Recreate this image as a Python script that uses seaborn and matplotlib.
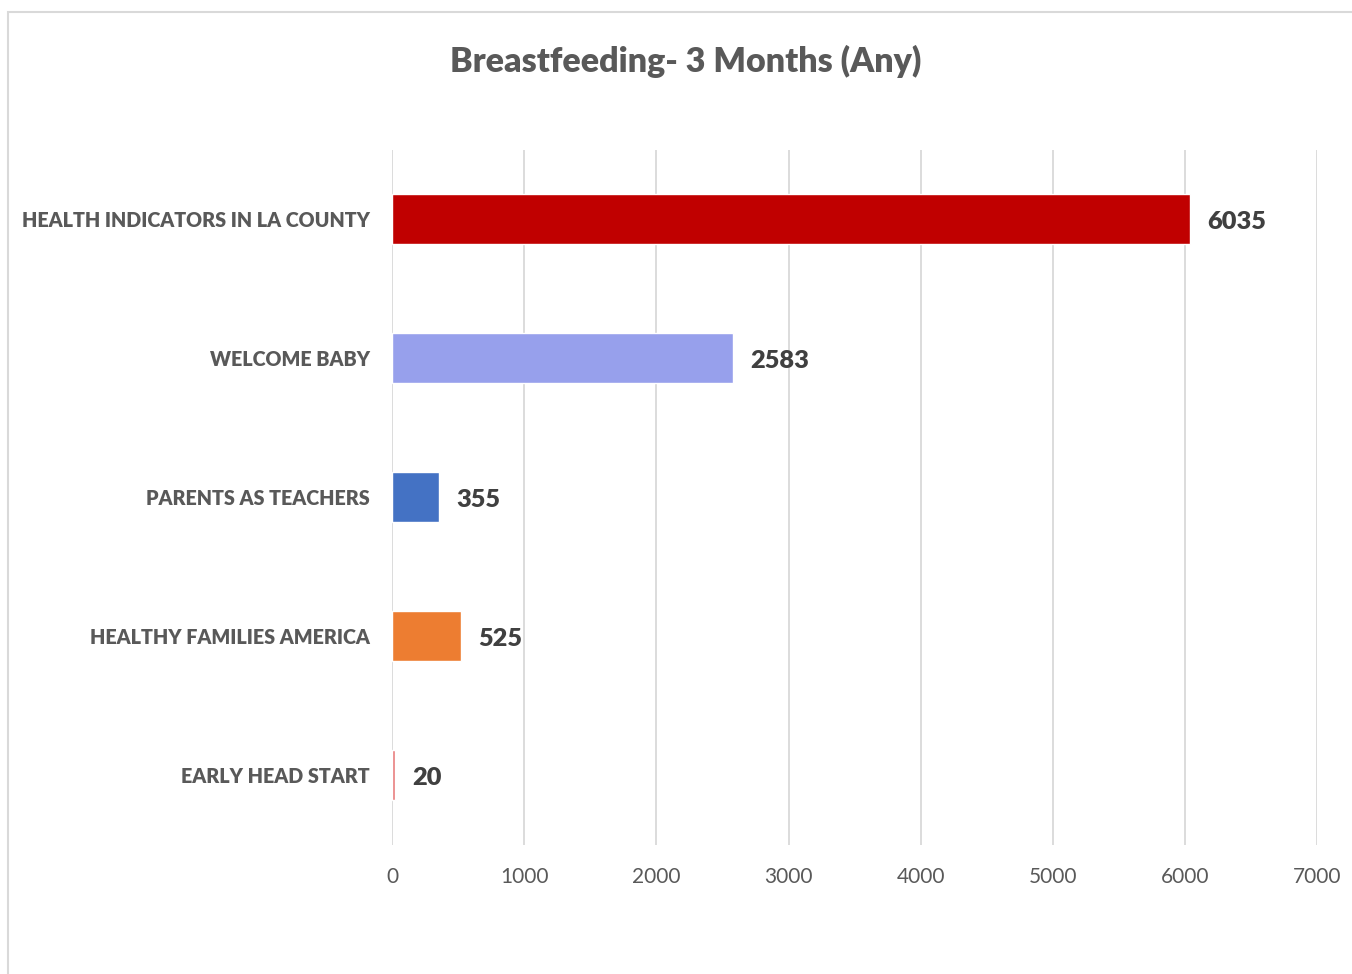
import numpy as np
import pandas as pd
import seaborn as sns
from matplotlib import pyplot as plt
from matplotlib.patches import Rectangle

programs = ['HEALTH INDICATORS IN LA COUNTY', 'WELCOME BABY', 'PARENTS AS TEACHERS',
            'HEALTHY FAMILIES AMERICA', 'EARLY HEAD START']
counts = [6035, 2583, 355, 525, 20]
colors = ['#C00000', '#97A0EC', '#4472C4', '#ED7D31', '#E87C7C']
ticks = [0, 1000, 2000, 3000, 4000, 5000, 6000, 7000]

df = pd.DataFrame({'program': programs, 'count': counts})

sns.set_style('white')
plt.rcParams['font.family'] = ['Lato', 'DejaVu Sans']

fig = plt.figure(figsize=(13.52, 9.74), dpi=100)
ax = fig.add_axes([0.29, 0.1325, 0.6842, 0.7136])

# chart frame
fig.patches.append(Rectangle((8 / 1352, -0.05), 2, 1.05 - 12 / 974, transform=fig.transFigure,
                             fill=False, edgecolor='#D9D9D9', linewidth=1.5))

sns.barplot(data=df, x='count', y='program', hue='program', palette=colors,
            legend=False, width=0.36, orient='h', ax=ax, saturation=1)

for i, v in enumerate(counts):
    ax.text(v + 130, i + 0.02, str(v), va='center', ha='left', fontsize=18.3,
            fontweight='heavy', color='#404040')

ax.set_xlim(0, 7000)
ax.set_ylim(4.5, -0.5)
ax.set_xticks(ticks)
ax.xaxis.grid(True, color='#D9D9D9', linewidth=1.3)
ax.set_axisbelow(True)
for s in ax.spines.values():
    s.set_visible(False)
ax.tick_params(axis='x', length=0, pad=16, labelsize=15, labelcolor='#595959')
ax.tick_params(axis='y', length=0, pad=16, labelsize=14.2, labelcolor='#595959')
for lab in ax.get_yticklabels():
    lab.set_fontweight('heavy')
ax.set_xlabel('')
ax.set_ylabel('')

fig.text(0.507, 0.937, 'Breastfeeding- 3 Months (Any)', ha='center', va='center',
         fontsize=24.5, fontweight='heavy', color='#595959')

fig.savefig('out.png', dpi=100, facecolor='white')
